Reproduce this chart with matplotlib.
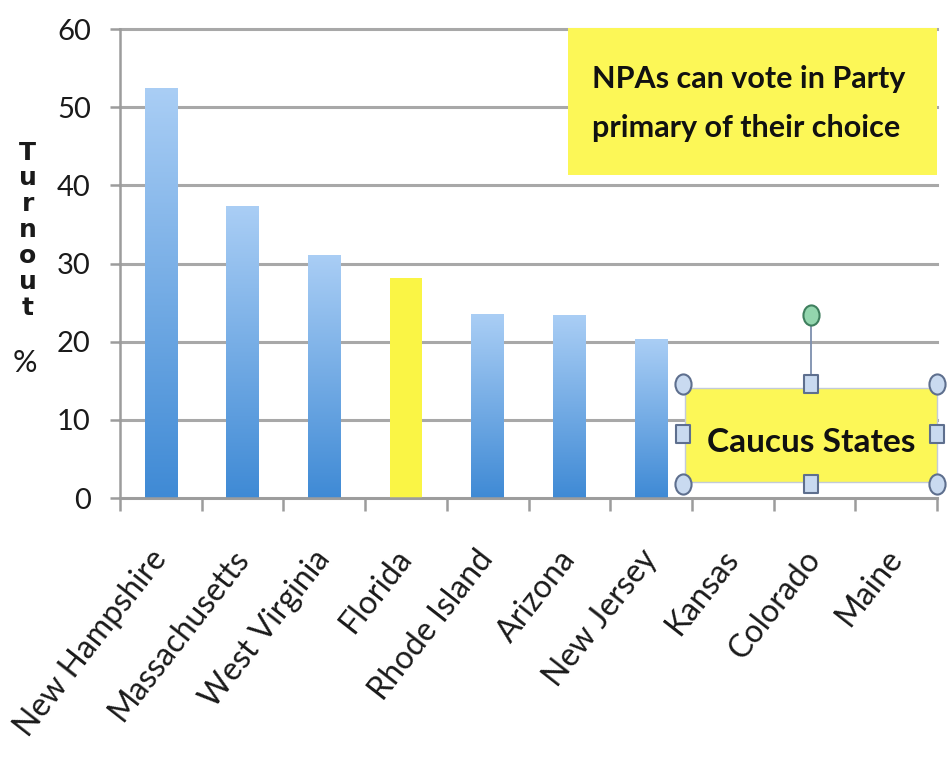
import numpy as np
import matplotlib
matplotlib.use("Agg")
import matplotlib.pyplot as plt
from matplotlib.path import Path
from matplotlib.markers import MarkerStyle
from matplotlib.patches import Rectangle
from matplotlib.colors import LinearSegmentedColormap
from matplotlib.transforms import Affine2D

# Primary turnout by state (%)
states = ["New Hampshire", "Massachusetts", "West Virginia", "Florida",
          "Rhode Island", "Arizona", "New Jersey", "Kansas", "Colorado", "Maine"]
turnout = [52.5, 37.3, 31.1, 28.2, 23.5, 23.4, 20.3, 0, 0, 0]
highlighted = ["Florida"]
yticks = [0, 10, 20, 30, 40, 50, 60]

npa_note = ["NPAs can vote in Party", "primary of their choice"]
caucus_note = "Caucus States"

FONT = "Lato"
GRID = "#a8a8a8"
YELLOW_BAR = "#faf545"
YELLOW_BOX = "#fcf757"
blue_grad = LinearSegmentedColormap.from_list("bluegrad", ["#3f8ad5", "#aacef5"])

fig = plt.figure(figsize=(9.51, 7.6), dpi=100)
ax = fig.add_axes([0.1262, 0.3447, 0.8591, 0.6171])

x = np.arange(len(states))
colors = [YELLOW_BAR if s in highlighted else "none" for s in states]
bars = ax.bar(x, turnout, width=0.4, color=colors, edgecolor="none", zorder=2)

# vertical gradient fill for the blue bars
grad = np.linspace(0, 1, 256).reshape(-1, 1)
for s, rect in zip(states, bars):
    h = rect.get_height()
    if s in highlighted or h <= 0:
        continue
    x0 = rect.get_x()
    im = ax.imshow(grad, extent=[x0, x0 + rect.get_width(), 0, h], origin="lower",
                   aspect="auto", cmap=blue_grad, zorder=2, interpolation="bicubic")
    im.set_clip_path(rect)

ax.set_xlim(-0.5, len(states) - 0.5)
ax.set_ylim(0, 60)
ax.set_yticks(yticks)
ax.set_xticks(x)
ax.set_xticks(np.arange(-0.5, len(states), 1.0), minor=True)

ax.yaxis.grid(True, color=GRID, linewidth=2.2, zorder=0)
for gl in ax.get_ygridlines():
    gl.set_clip_on(False)
ax.set_axisbelow(True)

for side in ["top", "right"]:
    ax.spines[side].set_visible(False)
for side in ["left", "bottom"]:
    ax.spines[side].set_color("#9c9c9c")
    ax.spines[side].set_linewidth(1.8)

ax.tick_params(axis="y", length=7, width=1.8, color="#9c9c9c", pad=14,
               labelsize=21, labelcolor="#1a1a1a")
ax.tick_params(axis="x", which="major", length=0, pad=40)
ax.tick_params(axis="x", which="minor", length=9, width=1.8, color="#9c9c9c")
for lbl in ax.get_yticklabels():
    lbl.set_fontfamily(FONT)

ax.set_xticklabels(states, rotation=52, ha="right", va="center",
                   rotation_mode="anchor", fontsize=23, family=FONT, color="#1a1a1a")

# stacked y-axis title
ax.text(-0.113, 0.571, "T\nu\nr\nn\no\nu\nt", transform=ax.transAxes, ha="center",
        va="center", fontsize=18, fontweight="bold", family="DejaVu Sans",
        linespacing=1.1, color="#1a1a1a")
ax.text(-0.117, 0.288, "%", transform=ax.transAxes, ha="center", va="center",
        fontsize=22, family=FONT, color="#1a1a1a")

# callout: NPA rule
ax.add_patch(Rectangle((4.98, 41.3), 4.52, 18.8, facecolor=YELLOW_BOX,
                       edgecolor="none", zorder=3, clip_on=False))
ax.text(5.28, 52.4, npa_note[0], ha="left", va="baseline", fontsize=22,
        fontweight="bold", family=FONT, color="#111111", zorder=4)
ax.text(5.28, 46.2, npa_note[1], ha="left", va="baseline", fontsize=22,
        fontweight="bold", family=FONT, color="#111111", zorder=4)

# callout: caucus states, shown as a selected text box
bx0, bx1, by0, by1 = 6.42, 9.5, 2.05, 14.07
ax.add_patch(Rectangle((bx0, by0), bx1 - bx0, by1 - by0, facecolor=YELLOW_BOX,
                       edgecolor="#c3cbd8", linewidth=1.0, zorder=3, clip_on=False))
ax.text((bx0 + bx1) / 2, 5.9, caucus_note, ha="center", va="baseline", fontsize=24,
        fontweight="bold", family=FONT, color="#111111", zorder=4)

hx0, hx1, hxm = 6.39, 9.5, 7.96
hy0, hy1, hym = 1.8, 14.6, 8.2
rot_y = 23.4
ell = MarkerStyle(Path.unit_circle().transformed(Affine2D().scale(0.8, 1.0)))
sq_path = Path([(-0.42, -0.5), (0.42, -0.5), (0.42, 0.5), (-0.42, 0.5), (-0.42, -0.5)],
               [Path.MOVETO, Path.LINETO, Path.LINETO, Path.LINETO, Path.CLOSEPOLY])
sq = MarkerStyle(sq_path)
ax.plot([hxm, hxm], [hy1, rot_y], color="#7d8fae", lw=1.3, zorder=5, clip_on=False)
ax.plot([hx0, hx1, hx0, hx1], [hy0, hy0, hy1, hy1], linestyle="none", marker=ell,
        markersize=14.5, markerfacecolor="#c9daf0", markeredgecolor="#5e6f8e",
        markeredgewidth=1.5, zorder=6, clip_on=False)
ax.plot([hxm, hxm, hx0, hx1], [hy0, hy1, hym, hym], linestyle="none", marker=sq,
        markersize=12.5, markerfacecolor="#c9daf0", markeredgecolor="#5e6f8e",
        markeredgewidth=1.5, zorder=6, clip_on=False)
ax.plot([hxm], [rot_y], linestyle="none", marker=ell, markersize=14.5,
        markerfacecolor="#93d6ae", markeredgecolor="#3f7f5e", markeredgewidth=1.5,
        zorder=6, clip_on=False)

ax.set_xlim(-0.5, len(states) - 0.5)
ax.set_ylim(0, 60)

fig.savefig("out.png", dpi=100, facecolor="white")
